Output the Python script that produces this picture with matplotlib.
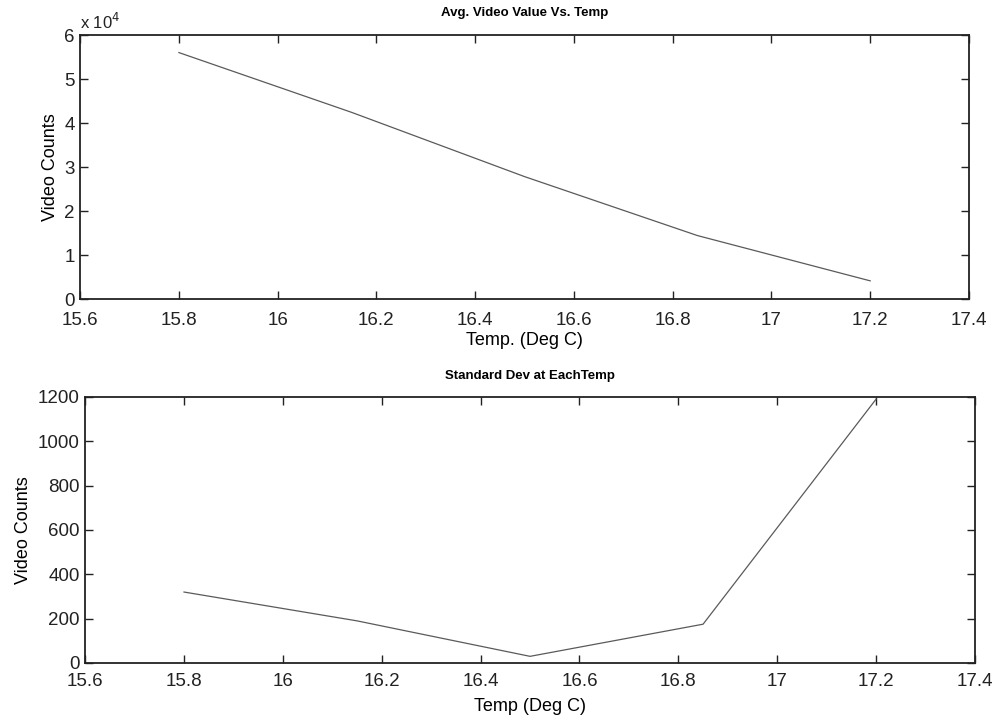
import matplotlib
matplotlib.use("Agg")
import matplotlib.pyplot as plt

plt.rcParams['font.family'] = ['Liberation Sans', 'DejaVu Sans']

temps = [15.8, 16.15, 16.5, 16.85, 17.2]
avg_video = [5.61e4, 4.25e4, 2.79e4, 1.45e4, 0.42e4]
std_dev = [320, 190, 30, 175, 1190]

xticks = [15.6, 15.8, 16.0, 16.2, 16.4, 16.6, 16.8, 17.0, 17.2, 17.4]
xtick_labels = ['15.6', '15.8', '16', '16.2', '16.4', '16.6', '16.8', '17', '17.2', '17.4']
top_yticks = [0, 1, 2, 3, 4, 5, 6]
bot_yticks = [0, 200, 400, 600, 800, 1000, 1200]

fig = plt.figure(figsize=(10.02, 7.23), dpi=100)
ax1 = fig.add_axes([0.080, 0.586, 0.887, 0.365])
ax2 = fig.add_axes([0.085, 0.083, 0.888, 0.368])

line_color = '#5a5a5a'

def style(ax, xpad):
    ax.set_xlim(15.6, 17.4)
    ax.set_xticks(xticks)
    ax.set_xticklabels(xtick_labels)
    ax.tick_params(direction='in', length=6, width=1.0, top=True, right=True,
                   labelsize=13.5, pad=4, colors='#222222')
    ax.tick_params(axis='x', pad=xpad)
    for s in ax.spines.values():
        s.set_linewidth(1.3)
        s.set_color('#222222')

ax1.plot(temps, [v / 1e4 for v in avg_video], color=line_color, lw=0.9)
style(ax1, 9)
ax1.set_ylim(0, 6)
ax1.set_yticks(top_yticks)
ax1.set_yticklabels([str(t) for t in top_yticks])
ax1.set_ylabel('Video Counts', fontsize=13, labelpad=4)
ax1.set_xlabel('Temp. (Deg C)', fontsize=13, labelpad=2)
ax1.set_title('Avg. Video Value Vs. Temp', fontsize=9.5, fontweight='bold', pad=14)
ax1.text(0.0, 1.012, 'x 10$^{4}$', transform=ax1.transAxes, fontsize=12,
         ha='left', va='bottom', color='#222222')

ax2.plot(temps, std_dev, color=line_color, lw=0.9)
style(ax2, 7)
ax2.set_ylim(0, 1200)
ax2.set_yticks(bot_yticks)
ax2.set_yticklabels([str(t) for t in bot_yticks])
ax2.set_ylabel('Video Counts', fontsize=13, labelpad=4)
ax2.set_xlabel('Temp (Deg C)', fontsize=13, labelpad=6)
ax2.set_title('Standard Dev at EachTemp', fontsize=9.5, fontweight='bold', pad=13)

fig.savefig('out.png', dpi=100)
